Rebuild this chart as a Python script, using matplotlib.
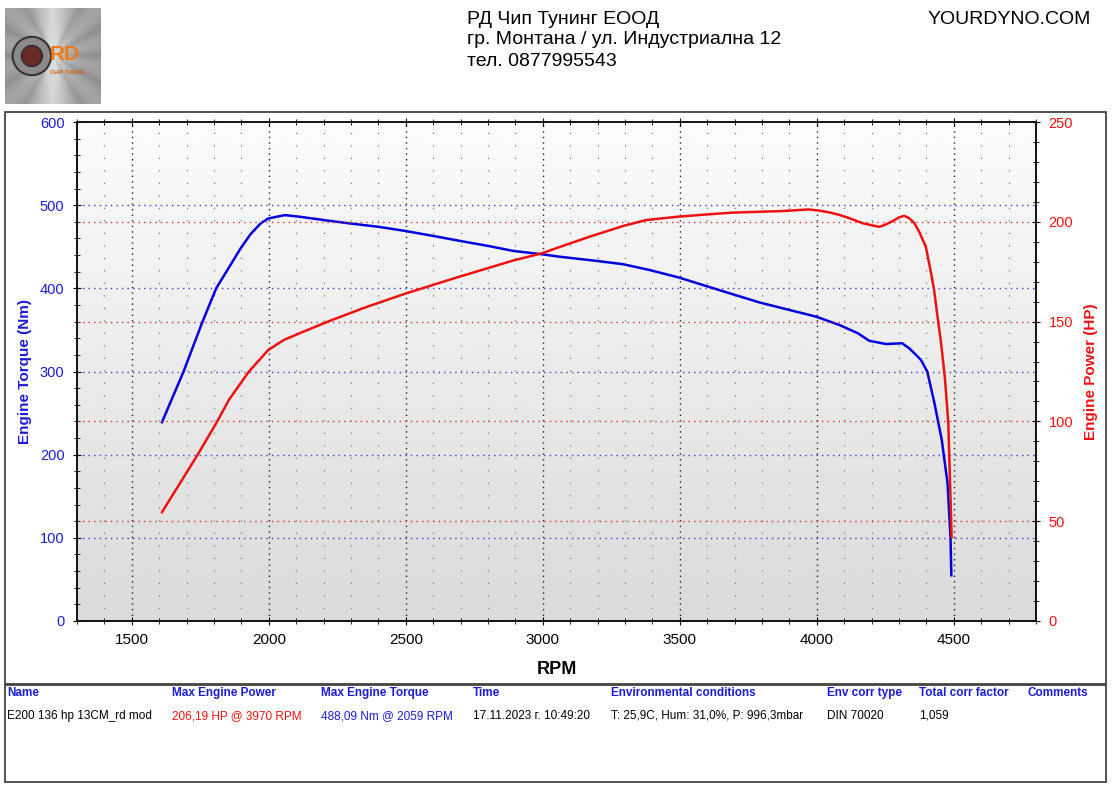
import numpy as np
import matplotlib
matplotlib.use("Agg")
import matplotlib.pyplot as plt
from matplotlib.patches import Rectangle, Circle
from matplotlib.ticker import MultipleLocator

plt.rcParams["font.family"] = ["Liberation Sans", "DejaVu Sans"]

# torque curve (Nm)
torque_rpm = [1610, 1689, 1757, 1808, 1860, 1897, 1933, 1970, 1998, 2043, 2059, 2115,
              2225, 2297, 2400, 2498, 2600, 2698, 2800, 2892, 2996, 3062, 3196, 3293,
              3390, 3497, 3633, 3791, 3900, 3997, 4082, 4150, 4191, 4253, 4311, 4337,
              4362, 4380, 4403, 4428, 4456, 4477, 4488, 4491]
torque_nm = [239, 300, 359, 400, 428, 448, 465, 478, 484, 487, 488, 486,
             481, 478, 474, 469, 463, 457, 451, 445, 441, 438, 433, 429,
             422, 413, 399, 383, 374, 366, 356, 346, 337, 333, 334, 328,
             320, 314, 300, 264, 218, 166, 101, 55]

# power curve (HP)
power_rpm = [1610, 1739, 1812, 1854, 1927, 1998, 2055, 2127, 2225, 2350, 2498, 2600,
             2698, 2800, 2892, 2996, 3062, 3172, 3293, 3378, 3497, 3600, 3693, 3876,
             3970, 4009, 4046, 4082, 4119, 4167, 4209, 4228, 4246, 4276, 4300, 4319,
             4337, 4355, 4373, 4398, 4416, 4428, 4440, 4452, 4461, 4468, 4480, 4486, 4492]
power_hp = [54.5, 83, 100, 110.7, 124.9, 135.8, 140.8, 145, 150.5, 157, 164, 168.4,
            172.6, 176.8, 180.6, 184.2, 187.4, 192.6, 197.9, 200.9, 202.6, 203.7, 204.6, 205.4,
            206.19, 205.6, 204.7, 203.5, 201.8, 199.3, 198.0, 197.5, 198.3, 200.3, 202.2, 203,
            201.8, 199.5, 195.2, 187.5, 175, 166, 153, 141, 130, 121, 99, 70.6, 42]

x_ticks = [1500, 2000, 2500, 3000, 3500, 4000, 4500]

header_lines = ["РД Чип Тунинг ЕООД", "гр. Монтана / ул. Индустриална 12", "тел. 0877995543"]
site = "YOURDYNO.COM"

table_cols = ["Name", "Max Engine Power", "Max Engine Torque", "Time",
              "Environmental conditions", "Env corr type", "Total corr factor", "Comments"]
table_vals = ["E200 136 hp 13CM_rd mod", "206,19 HP @ 3970 RPM", "488,09 Nm @ 2059 RPM",
              "17.11.2023 г. 10:49:20", "T: 25,9C, Hum: 31,0%, P: 996,3mbar",
              "DIN 70020", "1,059", ""]
table_x = [7, 172, 321, 473, 611, 827, 919, 1027]

BLUE = "#0000dd"
RED = "#ee1111"
TXT_BLUE = "#1c1cd6"

W, H = 1112, 788
fig = plt.figure(figsize=(W / 100, H / 100), dpi=100)


def fx(px):
    return px / W


def fy(py):
    return 1 - py / H


# frames
fig.patches.append(Rectangle((fx(5), fy(684)), fx(1101), (684 - 112) / H, transform=fig.transFigure,
                             fill=False, edgecolor="#444444", lw=1.3))
fig.patches.append(Rectangle((fx(5), fy(782)), fx(1101), (782 - 685) / H, transform=fig.transFigure,
                             fill=False, edgecolor="#444444", lw=1.3))

ax = fig.add_axes([fx(77), fy(621), fx(1036 - 77), (621 - 122) / H])

# background gradient, light at top
grad = np.linspace(0.985, 0.855, 256)[:, None]
ax.imshow(grad, cmap="gray", vmin=0, vmax=1, extent=[1300, 4800, 0, 600],
          origin="upper", aspect="auto", zorder=0)
ax.set_xlim(1300, 4800)
ax.set_ylim(0, 600)

# grid
for r in range(1400, 4800, 100):
    if r % 500 == 0:
        ax.axvline(r, color="#222222", lw=1.0, ls=(0, (1, 3)), zorder=1)
    else:
        ax.axvline(r, color="#5f945f", lw=0.9, ls=(0, (1, 9)), zorder=1)
for t in range(100, 600, 100):
    ax.axhline(t, color="#3a3ae0", lw=1.0, ls=(0, (1, 3)), zorder=1)

ax.plot(torque_rpm, torque_nm, color=BLUE, lw=1.8, zorder=4)

ax.set_xticks(x_ticks)
ax.xaxis.set_minor_locator(MultipleLocator(100))
ax.yaxis.set_major_locator(MultipleLocator(100))
ax.yaxis.set_minor_locator(MultipleLocator(20))
ax.tick_params(axis="x", which="both", direction="inout", top=True, labelsize=11, pad=6)
ax.tick_params(axis="x", which="major", length=6)
ax.tick_params(axis="x", which="minor", length=5)
ax.tick_params(axis="y", which="major", direction="inout", length=6, labelsize=10.5,
               labelcolor=TXT_BLUE, pad=6)
ax.tick_params(axis="y", which="minor", direction="inout", length=5)
for s in ax.spines.values():
    s.set_color("#111111")
    s.set_linewidth(1.2)

ax.set_xlabel("RPM", fontsize=13, fontweight="bold", labelpad=10)
ax.set_ylabel("Engine Torque (Nm)", fontsize=11, fontweight="bold", color=TXT_BLUE, labelpad=6)

ax2 = ax.twinx()
ax2.set_ylim(0, 250)
for p in range(50, 250, 50):
    ax2.axhline(p, color="#e03030", lw=1.0, ls=(0, (1, 3)), zorder=1)
ax2.plot(power_rpm, power_hp, color=RED, lw=1.8, zorder=3)
ax2.yaxis.set_major_locator(MultipleLocator(50))
ax2.yaxis.set_minor_locator(MultipleLocator(10))
ax2.tick_params(axis="y", which="major", direction="inout", length=6, labelsize=10.5,
                labelcolor=RED, pad=6)
ax2.tick_params(axis="y", which="minor", direction="inout", length=5)
ax2.set_ylabel("Engine Power (HP)", fontsize=11, fontweight="bold", color=RED, labelpad=8)
for s in ax2.spines.values():
    s.set_color("#111111")
    s.set_linewidth(1.2)

# header
for i, line in enumerate(header_lines):
    fig.text(fx(467), fy(19 + 21 * i), line, fontsize=14, va="center", ha="left")
fig.text(fx(1091), fy(19), site, fontsize=14, va="center", ha="right")

# logo
lax = fig.add_axes([fx(5), fy(104), fx(96), 96 / H])
yy, xx = np.mgrid[-1:1:96j, -1:1:96j]
ang = np.abs(np.sin(np.arctan2(yy, xx) * 6))
logo = 0.55 + 0.3 * np.exp(-np.abs(xx) * 4) + 0.08 * ang
lax.imshow(logo, cmap="gray", vmin=0, vmax=1, extent=[0, 1, 0, 1])
lax.add_patch(Circle((0.28, 0.5), 0.2, facecolor="#8a8a8a", edgecolor="#333333", lw=1.5))
lax.add_patch(Circle((0.28, 0.5), 0.11, facecolor="#6a2a2a", edgecolor="#222222", lw=0.8))
lax.text(0.62, 0.52, "RD", color="#f07a10", fontsize=15, fontweight="bold",
         ha="center", va="center")
lax.text(0.66, 0.33, "CHIP TUNING", color="#d06010", fontsize=4, fontweight="bold",
         ha="center", va="center")
lax.set_xlim(0, 1)
lax.set_ylim(0, 1)
lax.axis("off")

# table
val_colors = ["black", RED, TXT_BLUE, "black", "black", "black", "black", "black"]
for x, col, val, c in zip(table_x, table_cols, table_vals, val_colors):
    fig.text(fx(x), fy(693), col, fontsize=8.5, fontweight="bold", color=TXT_BLUE, va="center")
    fig.text(fx(x), fy(716), val, fontsize=8.5, color=c, va="center")

fig.savefig("out.png", dpi=100)
